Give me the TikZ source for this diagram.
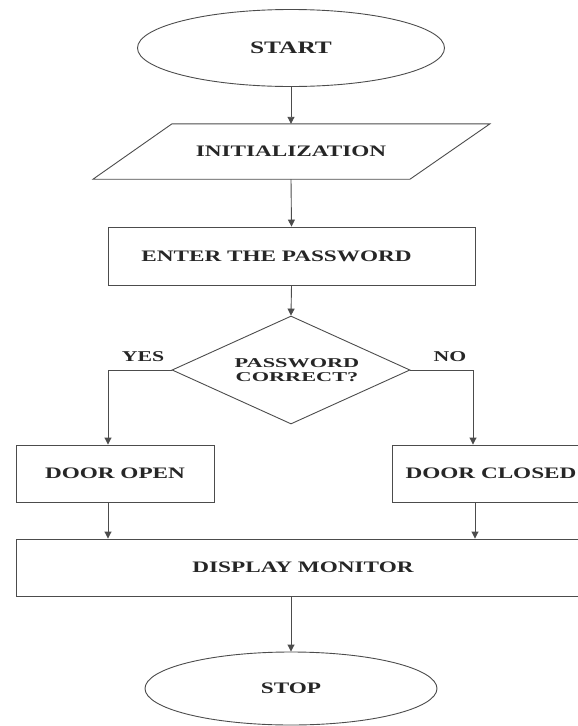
\documentclass[tikz,border=0pt]{standalone}
\usepackage{fontspec}
\usetikzlibrary{shapes.geometric,arrows.meta}
% wide bold serif used for the labels of the chart
\newfontfamily\chartfont{Liberation Serif}[FakeStretch=1.45]
\newfontfamily\decisionfont{Liberation Serif}[FakeStretch=1.65]
\newcommand{\chartsize}[1]{\chartfont\bfseries\fontsize{#1pt}{13pt}\selectfont}
\newcommand{\decisionsize}{\decisionfont\bfseries\fontsize{13.5pt}{13.5pt}\selectfont}

\begin{document}
\begin{tikzpicture}[
  x=1pt, y=-1pt,
  outline/.style={draw=black!70, line width=0.9pt},
  flow/.style={outline, -{Triangle[width=7pt,length=7pt]}},
  labeltext/.style={text=black!85, font=\chartsize{16}},
  terminal/.style={ellipse, outline, labeltext, inner sep=0pt},
  procbox/.style={rectangle, outline, labeltext, inner sep=0pt, minimum height=57pt},
  decision/.style={diamond, outline, labeltext, font=\decisionsize, align=center,
    aspect=2.2, inner sep=0pt, minimum width=238pt, minimum height=108pt},
  branchtext/.style={labeltext, font=\chartsize{15}, inner sep=0pt}
]
\useasboundingbox (0,0) rectangle (578,726);
\begin{scope}
\clip (0,0) rectangle (578,726);

% terminals, steps and the decision
\node[terminal, font=\chartsize{17.5}, minimum width=307pt, minimum height=77pt] (start) at (291,48) {START};
\node[labeltext, inner sep=0pt, minimum height=55pt] (init) at (291,151.5) {INITIALIZATION};
\draw[outline] ([xshift=-119pt]init.north) -- ([xshift=199pt]init.north)
  -- ([xshift=119pt]init.south) -- ([xshift=-198pt]init.south) -- cycle;
\node[procbox, minimum width=367pt, minimum height=58pt] (enter) at (291.5,256) {ENTER THE PASSWORD\hspace*{30pt}};
\node[decision] (check) at (291,370) {\hspace*{12pt}PASSWORD\\\hspace*{12pt}CORRECT?};
\node[branchtext] (yes) at (143,357) {YES};
\node[branchtext] (no) at (450,357) {NO};
\node[procbox, minimum width=198pt] (open) at (115,473.5) {DOOR OPEN};
\node[procbox, minimum width=198pt] (closed) at (491,473.5) {DOOR CLOSED};
\node[procbox, minimum width=574pt] (display) at (303,567.5) {DISPLAY MONITOR};
\node[terminal, minimum width=292pt, minimum height=73pt] (stop) at (291,688.5) {STOP};

% connectors
\draw[flow] (start.south) -- (init.north);
\draw[flow] (init.south) -- (enter.north);
\draw[flow] (enter.south) -- (check.north);
\draw[flow] (check.west) -| ([xshift=-7pt]open.north);
\draw[flow] (check.east) -| ([xshift=-18pt]closed.north);
\draw[flow] ([xshift=-7pt]open.south) -- ([xshift=-7pt]open.south |- display.north);
\draw[flow] ([xshift=-16pt]closed.south) -- ([xshift=-16pt]closed.south |- display.north);
\draw[flow] (display.south -| stop.north) -- (stop.north);
\end{scope}
\end{tikzpicture}
\end{document}
